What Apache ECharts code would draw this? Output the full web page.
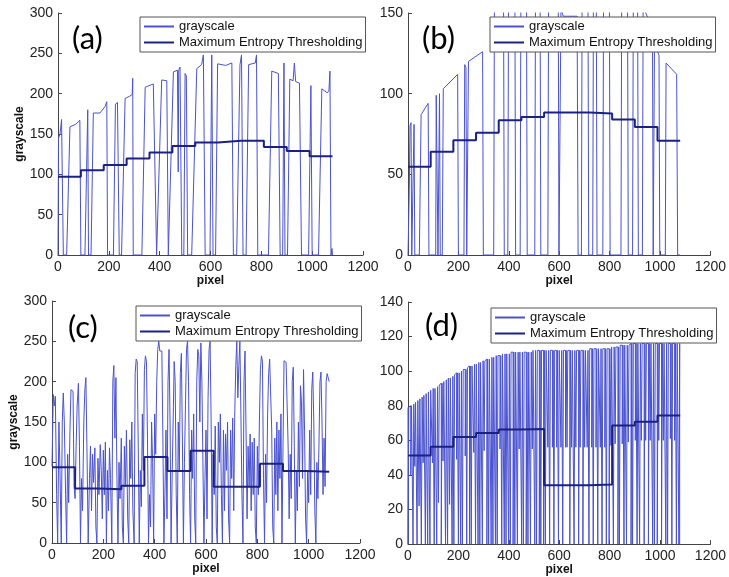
<!DOCTYPE html>
<html>
<head>
<meta charset="utf-8">
<script src="https://cdn.jsdelivr.net/npm/echarts@6/dist/echarts.min.js"></script>
<style>
  html, body { margin: 0; padding: 0; background: #fff; }
  #chart { width: 729px; height: 577px; }
</style>
</head>
<body>
<div id="chart"></div>
<script>
// step boundaries (pixel) shared by the 4 threshold curves
const stepX = [0, 90, 180, 270, 360, 450, 540, 630, 720, 810, 900, 990, 1080];
// Maximum Entropy Thresholding levels per block
const threshA = [97, 105, 111.5, 119.5, 127, 135, 139.5, 141.5, 141.5, 134, 129, 122.5];
const threshB = [54.7, 64, 71.2, 75.7, 83.6, 85.6, 88.3, 88.3, 87.7, 84, 79.4, 70.8];
const threshC = [93.8, 67.7, 66.5, 71, 106.6, 89.2, 114.4, 69.8, 69.8, 98.3, 89.2, 88.4];
const threshD = [51.3, 56.3, 62, 64.3, 66.3, 66.6, 34, 34, 34.4, 68.6, 70.7, 74.3];

// grayscale profile (a)  [pixel, grayscale]
const grayA = [
  [0,0],[2,145],[8,150],[14,168],[21,0],
  [34,0],[47,159],[70,162],[86,167],[90,0],
  [106,0],[117,180],[120,0],
  [130,0],[139,176],[165,176],[185,184],[192,190],[195,0],
  [218,0],[226,187],[234,189],[241,0],
  [250,0],[264,194],[283,197],[292,199],[294,219],[296,0],
  [330,0],[343,208],[375,212],[382,214],[388,0],
  [395,0],[408,217],[428,216],[434,0],
  [441,0],[454,227],[470,229],[473,103],[475,229],[480,233],[487,0],
  [495,0],[500,225],[505,222],[510,0],
  [526,0],[546,231],[565,236],[572,248],[579,0],
  [598,0],[605,248],[610,0],
  [620,0],[628,237],[660,235],[684,238],[690,0],
  [703,0],[716,236],[722,248],[728,0],
  [740,0],[750,236],[776,238],[781,248],[786,0],
  [828,0],[841,228],[867,225],[874,0],
  [884,0],[889,238],[893,0],
  [903,0],[912,218],[925,216],[930,238],[935,215],[950,213],[958,0],
  [986,0],[995,210],[1000,0],
  [1025,0],[1038,206],[1060,201],[1066,204],[1070,228],[1074,0],[1078,8],[1080,0]
];

// grayscale profile (b)
const grayB = [
  [0,0],[5,40],[8,80],[12,82],[15,0],[21,0],[24,81],[27,0],
  [45,0],[52,87],[80,94],[83,0],
  [110,0],[112,99],[116,100],[119,0],[123,0],[125,100],[128,0],
  [136,0],[140,103],[197,112],[200,0],
  [222,0],[225,118],[230,116],[233,0],[237,0],[240,120],[296,126],[299,0],
  [340,0],[343,160],[379,165],[382,0],
  [396,0],[399,166],[424,168],[427,0],
  [445,0],[448,168],[470,170],[473,0],
  [503,0],[506,170],[524,171],[527,0],
  [555,0],[558,172],[596,172],[599,0],
  [606,0],[608,172],[612,150],[616,148],[671,148],[675,0],
  [688,0],[691,172],[714,172],[717,0],
  [733,0],[736,171],[747,171],[750,0],
  [773,0],[776,170],[799,168],[802,0],
  [845,0],[848,166],[871,163],[874,0],
  [891,0],[894,160],[911,157],[914,0],
  [930,0],[933,154],[970,140],[973,0],
  [976,0],[978,130],[996,124],[999,0],
  [1021,0],[1024,119],[1066,112],[1070,0],[1080,0]
];

// grayscale profile (c)
const grayC = [
  [0,95],[5,184],[9,170],[13,182],[18,60],[22,0],[27,150],[31,90],[36,0],[40,150],
  [44,186],[48,150],[53,60],[57,0],[61,110],[65,50],[70,140],[74,190],[78,192],[82,188],
  [86,70],[90,55],[94,120],[98,170],[103,198],[107,120],[111,0],[115,80],[119,40],[124,150],
  [128,190],[132,205],[136,120],[141,0],[146,80],[150,120],[154,40],[158,110],[162,75],[167,118],
  [171,20],[175,0],[179,105],[183,60],[188,122],[192,90],[196,30],[200,115],[204,60],[208,125],
  [212,0],[216,90],[220,40],[224,118],[228,80],[233,0],[237,200],[241,220],[245,130],[249,205],
  [253,80],[257,0],[261,100],[265,55],[270,130],[274,20],[278,0],[282,120],[286,70],[290,140],
  [295,30],[299,0],[303,128],[307,80],[311,150],[315,40],[320,0],[324,210],[328,228],[332,225],
  [336,120],[340,0],[344,90],[348,45],[352,160],[356,90],[360,215],[364,232],[368,225],[372,130],
  [376,0],[380,60],[384,20],[388,150],[392,100],[396,0],[400,160],[404,110],[408,200],[412,240],
  [416,250],[420,238],[424,236],[428,238],[432,130],[436,0],[440,60],[444,140],[448,30],[452,200],
  [456,240],[460,150],[464,0],[468,80],[472,150],[476,225],[480,200],[484,60],[488,0],[492,150],
  [496,90],[500,210],[504,235],[508,130],[512,0],[516,100],[520,170],[524,240],[528,250],[532,200],
  [536,60],[540,0],[544,140],[548,80],[552,160],[556,30],[560,0],[564,200],[568,240],[572,232],
  [576,150],[580,248],[584,200],[588,100],[592,0],[596,80],[600,140],[604,30],[608,180],[612,240],
  [616,250],[620,150],[624,0],[628,110],[632,60],[636,145],[640,20],[644,0],[648,150],[652,100],
  [656,160],[660,60],[664,0],[668,140],[672,40],[676,135],[680,90],[684,150],[688,30],[692,0],
  [696,140],[700,80],[704,155],[708,40],[712,160],[716,220],[720,250],[724,180],[728,220],[732,250],
  [736,160],[740,60],[744,0],[748,200],[752,238],[756,140],[760,30],[764,120],[768,70],[772,135],
  [776,40],[780,125],[784,60],[788,130],[792,20],[796,0],[800,120],[804,60],[808,150],[812,215],
  [816,232],[820,225],[824,80],[828,0],[832,110],[836,50],[840,160],[844,210],[848,228],[852,230],
  [856,140],[860,20],[864,0],[868,130],[872,60],[876,150],[880,40],[884,140],[888,80],[892,160],
  [896,0],[900,120],[904,226],[908,228],[912,224],[916,222],[920,120],[924,30],[928,110],[932,55],
  [936,200],[940,218],[944,120],[948,0],[952,90],[956,40],[960,150],[964,70],[968,195],[972,175],
  [976,80],[980,215],[984,140],[988,30],[992,0],[996,90],[1000,50],[1004,140],[1008,60],[1012,190],
  [1016,212],[1020,150],[1024,40],[1028,0],[1032,100],[1036,55],[1040,120],[1044,200],[1048,212],[1052,150],
  [1056,60],[1060,130],[1064,70],[1068,200],[1072,210],[1076,205],[1080,200]
];

// grayscale profile (d): narrow dips, position / upper level / lower level
const dipX = [
  0, 11, 20, 27, 36, 44, 53, 60, 69, 78,
  87, 97, 104, 114, 121, 132, 139, 149, 157, 165,
  175, 182, 193, 200, 209, 216, 227, 233, 244, 251,
  261, 268, 278, 285, 295, 302, 313, 320, 330, 337,
  347, 354, 365, 372, 382, 389, 399, 406, 417, 424,
  434, 441, 451, 458, 469, 476, 486, 493, 503, 510,
  521, 527, 538, 545, 555, 562, 573, 579, 590, 597,
  607, 614, 625, 631, 642, 649, 659, 666, 677, 683,
  694, 701, 711, 718, 729, 735, 746, 753, 763, 770,
  781, 787, 798, 805, 815, 822, 833, 839, 850, 857,
  867, 874, 885, 891, 902, 909, 919, 926, 937, 943,
  954, 961, 971, 978, 989, 995, 1006, 1013, 1023, 1030,
  1041, 1047, 1058, 1065, 1075
];
const dipTop = [
  79, 80, 81, 82, 83, 84, 85, 86, 87, 88,
  89, 90, 90, 91, 92, 93, 94, 95, 96, 96,
  97, 98, 99, 99, 100, 101, 101, 102, 103, 103,
  104, 104, 105, 105, 106, 106, 107, 107, 108, 108,
  109, 109, 109, 110, 110, 110, 110, 111, 111, 111,
  111, 111, 111, 111, 111, 111, 111, 112, 112, 112,
  112, 112, 112, 112, 112, 112, 112, 112, 112, 112,
  112, 112, 112, 112, 112, 112, 112, 112, 112, 112,
  112, 112, 112, 113, 113, 113, 113, 113, 113, 113,
  113, 113, 113, 114, 114, 114, 114, 115, 115, 115,
  115, 115, 116, 116, 116, 116, 116, 116, 116, 116,
  116, 116, 116, 116, 116, 116, 116, 116, 116, 116,
  116, 116, 116, 116, 116
];
const dipLow = [
  0, 40, 0, 45, 0, 22, 0, 47, 0, 0,
  0, 47, 0, 0, 24, 0, 48, 0, 0, 23,
  0, 0, 49, 0, 0, 0, 51, 0, 0, 0,
  53, 0, 0, 0, 0, 54, 0, 0, 0, 0,
  0, 0, 55, 0, 0, 0, 0, 0, 0, 0,
  0, 55, 0, 0, 0, 0, 0, 55, 0, 0,
  0, 0, 0, 0, 56, 0, 56, 0, 56, 0,
  56, 0, 56, 56, 0, 56, 0, 56, 0, 56,
  0, 56, 56, 0, 56, 0, 56, 0, 56, 0,
  56, 0, 0, 57, 0, 58, 0, 0, 58, 0,
  0, 59, 0, 0, 60, 0, 0, 60, 0, 60,
  0, 60, 0, 0, 0, 60, 0, 60, 0, 0,
  61, 0, 60, 0, 0
];

const yMax = [300, 150, 300, 140];
const yStep = [50, 50, 50, 20];
const panelTags = ['(a)', '(b)', '(c)', '(d)'];

const FONT = 'Liberation Sans, Arial, sans-serif';
const GRAY_COLOR = '#4a52d0';
const THR_COLOR = '#1b2180';

function stepData(vals) {
  return stepX.map((x, i) => [x, vals[Math.min(i, vals.length - 1)]]);
}
function dipData() {
  let out = [];
  for (let i = 0; i < dipX.length; i++) {
    out.push([dipX[i], dipTop[i]], [dipX[i], dipLow[i]], [dipX[i] + 3, dipLow[i]], [dipX[i] + 3, dipTop[i]]);
  }
  out.push([1078, 0]);
  return out;
}

const grids = [
  {left: 58, top: 13, width: 305, height: 242},
  {left: 408, top: 13, width: 305, height: 242},
  {left: 52, top: 301, width: 308, height: 242},
  {left: 408, top: 302, width: 305, height: 243}
];
const legendPos = [[140, 17], [490, 17], [136, 306], [491, 308]];
const tagPos = [[72, 42], [422, 42], [68, 331], [425, 329]];

let xAxes = [], yAxes = [], series = [], legends = [], graphics = [];
const grayData = [grayA, grayB, grayC, dipData()];
const thrData = [threshA, threshB, threshC, threshD];

for (let i = 0; i < 4; i++) {
  xAxes.push({
    gridIndex: i, type: 'value', min: 0, max: 1200, interval: 200,
    name: 'pixel', nameLocation: 'middle', nameGap: 19,
    nameTextStyle: {fontFamily: FONT, fontWeight: 'bold', fontSize: 12, color: '#111'},
    axisLine: {lineStyle: {color: '#444', width: 1}},
    axisTick: {inside: true, length: 4, lineStyle: {color: '#444'}},
    axisLabel: {fontFamily: FONT, fontSize: 14, color: '#222', margin: 5, formatter: v => String(v)},
    splitLine: {show: false}
  });
  yAxes.push({
    gridIndex: i, type: 'value', min: 0, max: yMax[i], interval: yStep[i],
    name: (i === 0 || i === 2) ? 'grayscale' : '',
    nameLocation: 'middle', nameGap: 26,
    nameTextStyle: {fontFamily: FONT, fontWeight: 'bold', fontSize: 12, color: '#111'},
    axisLine: {show: true, lineStyle: {color: '#444', width: 1}},
    axisTick: {show: true, inside: true, length: 4, lineStyle: {color: '#444'}},
    axisLabel: {fontFamily: FONT, fontSize: 14, color: '#222', margin: 5, formatter: v => String(v)},
    splitLine: {show: false}
  });
  series.push({
    name: 'grayscale', type: 'line', xAxisIndex: i, yAxisIndex: i,
    data: grayData[i], symbol: 'none', clip: true, animation: false,
    lineStyle: {color: GRAY_COLOR, width: 1}, itemStyle: {color: GRAY_COLOR}
  });
  series.push({
    name: 'Maximum Entropy Thresholding', type: 'line', xAxisIndex: i, yAxisIndex: i,
    data: stepData(thrData[i]), step: 'end', symbol: 'none', animation: false,
    lineStyle: {color: THR_COLOR, width: 2}, itemStyle: {color: THR_COLOR}, z: 3
  });
  legends.push({
    left: legendPos[i][0], top: legendPos[i][1], orient: 'vertical',
    backgroundColor: '#fff', borderColor: '#555', borderWidth: 1, borderRadius: 0,
    padding: [3, 3], itemGap: 3, itemWidth: 30, itemHeight: 14, selectedMode: false,
    itemStyle: {opacity: 0},
    textStyle: {fontFamily: FONT, fontSize: 13, color: '#111'},
    data: ['grayscale', 'Maximum Entropy Thresholding']
  });
  graphics.push({
    type: 'text', left: tagPos[i][0], top: tagPos[i][1] - 19, z: 10,
    style: {text: panelTags[i], font: '31px Lato, sans-serif', fill: '#000'}
  });
}

const chart = echarts.init(document.getElementById('chart'));
chart.setOption({
  backgroundColor: '#fff',
  animation: false,
  grid: grids,
  xAxis: xAxes,
  yAxis: yAxes,
  legend: legends,
  series: series,
  graphic: graphics
});
</script>
</body>
</html>
